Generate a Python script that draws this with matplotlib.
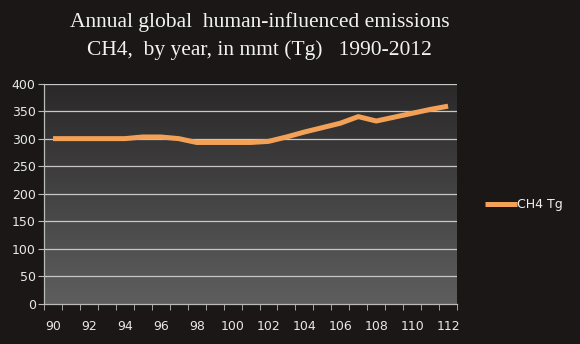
import numpy as np
import matplotlib.pyplot as plt

# Data
years = ["90", "91", "92", "93", "94", "95", "96", "97", "98", "99", "100", "101",
         "102", "103", "104", "105", "106", "107", "108", "109", "110", "111", "112"]
ch4_tg = [300, 300, 300, 300, 300, 303, 303, 300, 293, 293, 293, 293,
          295, 303, 312, 320, 328, 340, 332, 339, 346, 353, 359]
y_ticks = [0, 50, 100, 150, 200, 250, 300, 350, 400]

fig = plt.figure(figsize=(5.8, 3.44), dpi=100)
fig.patch.set_facecolor("#1b1717")
ax = fig.add_axes([0.076, 0.117, 0.712, 0.64])

x = np.arange(len(years))
ax.set_xlim(-0.5, len(years) - 0.5)
ax.set_ylim(0, 400)

# gray gradient plot area
grad = np.linspace(0, 1, 256).reshape(-1, 1)
ax.imshow(grad, cmap=plt.matplotlib.colors.LinearSegmentedColormap.from_list(
    "bg", ["#5e5e5e", "#2a2828"]), aspect="auto",
    extent=[-0.5, len(years) - 0.5, 0, 400], origin="lower", zorder=0)

for v in y_ticks[1:]:
    ax.axhline(v, color="#c8c8c8", lw=0.9, zorder=1)

ax.plot(x, ch4_tg, color="#f4a158", lw=3.6, solid_capstyle="butt", zorder=3,
        label="CH4 Tg")

ax.set_yticks(y_ticks)
ax.set_xticks(x[::2])
ax.set_xticklabels(years[::2])
ax.set_xticks(np.arange(-0.5, len(years)), minor=True)
ax.tick_params(axis="x", which="major", length=0, pad=12, colors="#e8e8e8", labelsize=9)
ax.tick_params(axis="x", which="minor", length=4, color="#bbbbbb", direction="out")
ax.tick_params(axis="y", length=4, color="#bbbbbb", colors="#e8e8e8", labelsize=9, pad=2)

for s in ["top", "right"]:
    ax.spines[s].set_visible(False)
for s in ["left", "bottom"]:
    ax.spines[s].set_color("#bbbbbb")
    ax.spines[s].set_linewidth(0.9)

fig.text(0.448, 0.935, "Annual global  human-influenced emissions",
         ha="center", va="center", color="#f2f2f2", fontsize=15.5,
         family="Liberation Serif")
fig.text(0.448, 0.855, "CH4,  by year, in mmt (Tg)   1990-2012",
         ha="center", va="center", color="#f2f2f2", fontsize=15.5,
         family="Liberation Serif")

leg = ax.legend(loc="center left", bbox_to_anchor=(1.04, 0.45), frameon=False,
                handlelength=2.6, handletextpad=0.0, fontsize=9)
for t in leg.get_texts():
    t.set_color("#f0f0f0")

fig.savefig("out.png", facecolor=fig.get_facecolor())
